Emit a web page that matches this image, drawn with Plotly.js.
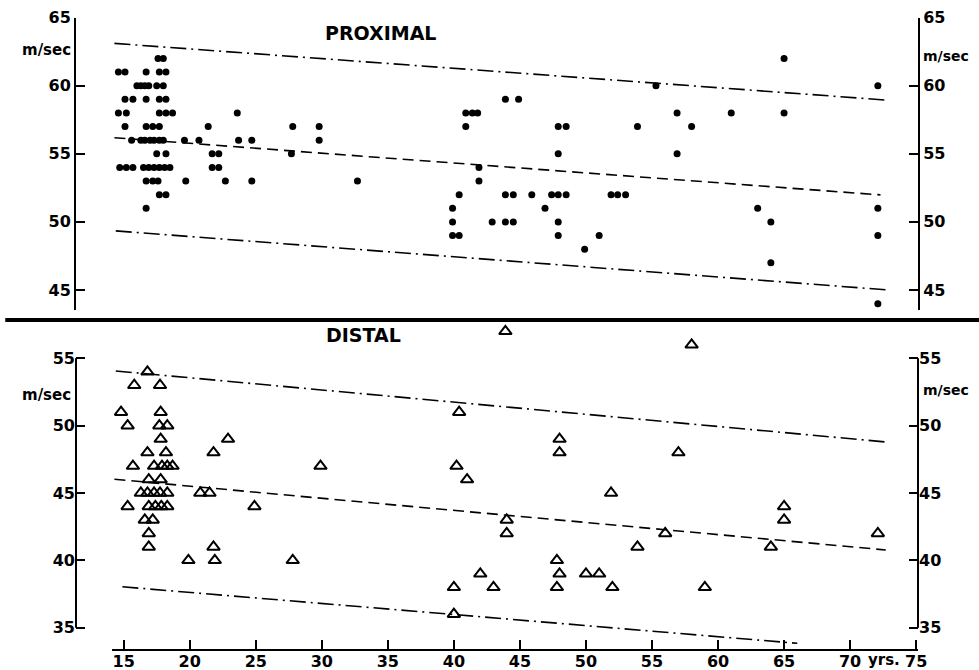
<!DOCTYPE html>
<html><head><meta charset="utf-8">
<script src="https://cdn.plot.ly/plotly-3.0.1.min.js"></script>
<style>html,body{margin:0;padding:0;background:#fff;overflow:hidden}#chart{width:979px;height:670px}</style>
</head><body><div id="chart"></div>
<script>
// ---- Proximal conduction velocity (m/sec) vs age (yrs) ----
const proxAge = [
  17.6, 18.0, 65.0,
  14.6, 15.1, 16.7, 17.7, 18.2,
  16.0, 16.3, 16.6, 16.9, 17.5, 18.0, 55.3, 72.1,
  15.1, 15.7, 16.7, 17.7, 18.2, 43.9, 44.9,
  14.6, 15.2, 17.7, 18.2, 18.7, 23.6, 40.9, 41.4, 41.8, 56.9, 61.0, 65.0,
  15.1, 16.7, 17.2, 17.7, 21.4, 27.8, 29.8, 40.9, 47.9, 48.5, 53.9, 58.0,
  15.6, 16.3, 16.6, 17.0, 17.3, 17.7, 18.0, 19.6, 20.7, 23.7, 24.7, 29.8,
  17.5, 18.2, 21.7, 22.2, 27.7, 47.9, 56.9,
  14.7, 15.2, 15.7, 16.5, 16.9, 17.3, 17.7, 18.1, 18.5, 21.7, 22.2, 41.9,
  16.7, 17.2, 17.6, 19.7, 22.7, 24.7, 32.7, 41.9,
  17.7, 18.2, 40.4, 43.9, 44.5, 45.9, 47.4, 47.9, 48.5, 51.9, 52.4, 53.0,
  16.7, 39.9, 46.9, 63.0, 72.1,
  39.9, 42.9, 43.9, 44.5, 47.9, 64.0,
  39.9, 40.4, 47.9, 51.0, 72.1,
  49.9,
  64.0,
  72.1
];
const proxVel = [
  62, 62, 62,
  61, 61, 61, 61, 61,
  60, 60, 60, 60, 60, 60, 60, 60,
  59, 59, 59, 59, 59, 59, 59,
  58, 58, 58, 58, 58, 58, 58, 58, 58, 58, 58, 58,
  57, 57, 57, 57, 57, 57, 57, 57, 57, 57, 57, 57,
  56, 56, 56, 56, 56, 56, 56, 56, 56, 56, 56, 56,
  55, 55, 55, 55, 55, 55, 55,
  54, 54, 54, 54, 54, 54, 54, 54, 54, 54, 54, 54,
  53, 53, 53, 53, 53, 53, 53, 53,
  52, 52, 52, 52, 52, 52, 52, 52, 52, 52, 52, 52,
  51, 51, 51, 51, 51,
  50, 50, 50, 50, 50, 50,
  49, 49, 49, 49, 49,
  48,
  47,
  44
];

// ---- Distal conduction velocity (m/sec) vs age (yrs) ----
const distAge = [
  43.9,
  58.0,
  16.8,
  15.8, 17.75,
  14.8, 17.8, 40.4,
  15.3, 17.7, 18.3,
  17.8, 22.9, 48.0,
  16.8, 18.2, 21.8, 48.0, 57.0,
  15.7, 17.3, 17.9, 18.3, 18.7, 29.9, 40.2,
  16.9, 17.8, 41.0,
  16.3, 16.8, 17.3, 17.75, 18.3, 20.8, 21.5, 51.9,
  15.3, 16.9, 17.4, 17.85, 18.3, 24.9, 65.0,
  16.6, 17.2, 44.0, 65.0,
  16.9, 44.0, 56.0, 72.1,
  16.9, 21.8, 53.9, 64.0,
  19.9, 21.9, 27.8, 47.8,
  42.0, 48.0, 50.0, 51.0,
  40.0, 43.0, 47.8, 52.0, 59.0,
  40.0
];
const distVel = [
  57,
  56,
  54,
  53, 53,
  51, 51, 51,
  50, 50, 50,
  49, 49, 49,
  48, 48, 48, 48, 48,
  47, 47, 47, 47, 47, 47, 47,
  46, 46, 46,
  45, 45, 45, 45, 45, 45, 45, 45,
  44, 44, 44, 44, 44, 44, 44,
  43, 43, 43, 43,
  42, 42, 42, 42,
  41, 41, 41, 41,
  40, 40, 40, 40,
  39, 39, 39, 39,
  38, 38, 38, 38, 38,
  36
];

// ---- Regression line and limits (end points) ----
const proxUpperX = [14.3, 72.6], proxUpperY = [63.1, 58.95];
const proxMidX   = [14.3, 72.3], proxMidY   = [56.18, 51.98];
const proxLowerX = [14.4, 72.9], proxLowerY = [49.34, 45.0];
const distUpperX = [14.4, 72.7], distUpperY = [54.06, 48.79];
const distMidX   = [14.3, 72.7], distMidY   = [46.02, 40.77];
const distLowerX = [14.9, 66.0], distLowerY = [38.04, 33.84];

// ---- Ticks ----
const xTicks = [15, 20, 25, 30, 35, 40, 45, 50, 55, 60, 65, 70, 75];
const proxTicks = [45, 50, 55, 60, 65];
const distTicks = [35, 40, 45, 50, 55];

const FONT = 'DejaVu Sans, sans-serif';
const tickFont = {family: FONT, size: 16, color: '#000', weight: 'bold'};
const labFont = {family: FONT, size: 15, color: '#000', weight: 'bold'};
const rLabFont = {family: FONT, size: 14, color: '#000', weight: 'bold'};
const titleFont = {family: FONT, size: 19, color: '#000', weight: 'bold'};
const dashDot = '16px,5px,2px,5px';
const dashed = '11px,6px';

function lineTrace(x, y, ya, dash) {
  return {x: x, y: y, xaxis: 'x', yaxis: ya, mode: 'lines', type: 'scatter',
          line: {color: '#000', width: 1.6, dash: dash}, showlegend: false};
}

const traces = [
  {x: proxAge, y: proxVel, xaxis: 'x', yaxis: 'y', type: 'scatter', mode: 'markers',
   showlegend: false, marker: {symbol: 'circle', size: 7, color: '#000'}},
  lineTrace(distUpperX, distUpperY, 'y4', dashDot),
  lineTrace(proxUpperX, proxUpperY, 'y3', dashDot),
  {x: distAge, y: distVel, xaxis: 'x', yaxis: 'y2', type: 'scatter', mode: 'markers',
   showlegend: false,
   marker: {symbol: 'triangle-up-open', size: 11, color: '#000', line: {width: 2, color: '#000'}}},
  lineTrace(proxMidX, proxMidY, 'y3', dashed),
  lineTrace(proxLowerX, proxLowerY, 'y3', dashDot),
  lineTrace(distMidX, distMidY, 'y4', dashed),
  lineTrace(distLowerX, distLowerY, 'y4', dashDot)
];

const yCommon = {ticks: 'inside', ticklen: 9, tickwidth: 2, tickcolor: '#000',
                 showgrid: false, zeroline: false, tickfont: tickFont};
const proxRange = [43.533, 65];
const distRange = [33.344, 57.695];

const layout = {
  width: 979, height: 670, showlegend: false,
  margin: {l: 76, r: 61, t: 10, b: 20},
  xaxis: {domain: [0, 1], range: [11.39, 75.14], anchor: 'y2', tickvals: xTicks,
          ticks: 'inside', ticklen: 10, tickwidth: 2, tickcolor: '#000',
          showline: false, showgrid: false, zeroline: false, tickfont: tickFont},
  yaxis: Object.assign({}, yCommon, {domain: [0.53125, 0.98828], range: proxRange, anchor: 'x', side: 'left',
          tickvals: proxTicks, showline: true, linewidth: 2, linecolor: '#000'}),
  yaxis3: Object.assign({}, yCommon, {domain: [0.53125, 0.98828], range: proxRange, overlaying: 'y', anchor: 'x', side: 'right',
          tickvals: proxTicks, showline: true, linewidth: 2, linecolor: '#000'}),
  yaxis2: Object.assign({}, yCommon, {domain: [0, 0.5125], range: distRange, anchor: 'x', side: 'left',
          tickvals: distTicks, showline: false}),
  yaxis4: Object.assign({}, yCommon, {domain: [0, 0.5125], range: distRange, overlaying: 'y2', anchor: 'x', side: 'right',
          tickvals: distTicks, showline: false}),
  shapes: [
    {type: 'line', xref: 'paper', x0: 0, x1: 0, yref: 'paper', y0: 0.0348, y1: 0.4558, line: {color: '#000', width: 2}},
    {type: 'line', xref: 'paper', x0: 1, x1: 1, yref: 'paper', y0: 0.0348, y1: 0.4558, line: {color: '#000', width: 2}},
    {type: 'line', xref: 'paper', x0: 0.0428, x1: 1, yref: 'paper', y0: 0, y1: 0, line: {color: '#000', width: 2}},
    {type: 'line', xref: 'paper', x0: -0.084, x1: 1.075, yref: 'paper', y0: 0.5156, y1: 0.5156, line: {color: '#000', width: 4}}
  ],
  annotations: [
    {text: 'PROXIMAL', xref: 'x', yref: 'y', x: 34.48, y: 63.86, showarrow: false, font: titleFont},
    {text: 'DISTAL', xref: 'x', yref: 'y2', x: 33.19, y: 56.73, showarrow: false, font: titleFont},
    {text: 'm/sec', xref: 'paper', yref: 'y', x: 0, y: 62.6, xanchor: 'right', xshift: -3, showarrow: false, font: labFont},
    {text: 'm/sec', xref: 'paper', yref: 'y2', x: 0, y: 52.3, xanchor: 'right', xshift: -3, showarrow: false, font: labFont},
    {text: 'm/sec', xref: 'paper', yref: 'y', x: 1, y: 62.2, xanchor: 'left', xshift: 3, showarrow: false, font: rLabFont},
    {text: 'm/sec', xref: 'paper', yref: 'y2', x: 1, y: 52.65, xanchor: 'left', xshift: 3, showarrow: false, font: rLabFont},
    {text: 'yrs.', xref: 'x', yref: 'paper', x: 72.6, y: -0.0156, yanchor: 'middle', showarrow: false, font: labFont}
  ]
};

Plotly.newPlot('chart', traces, layout, {staticPlot: true, displayModeBar: false});
</script>
</body></html>
